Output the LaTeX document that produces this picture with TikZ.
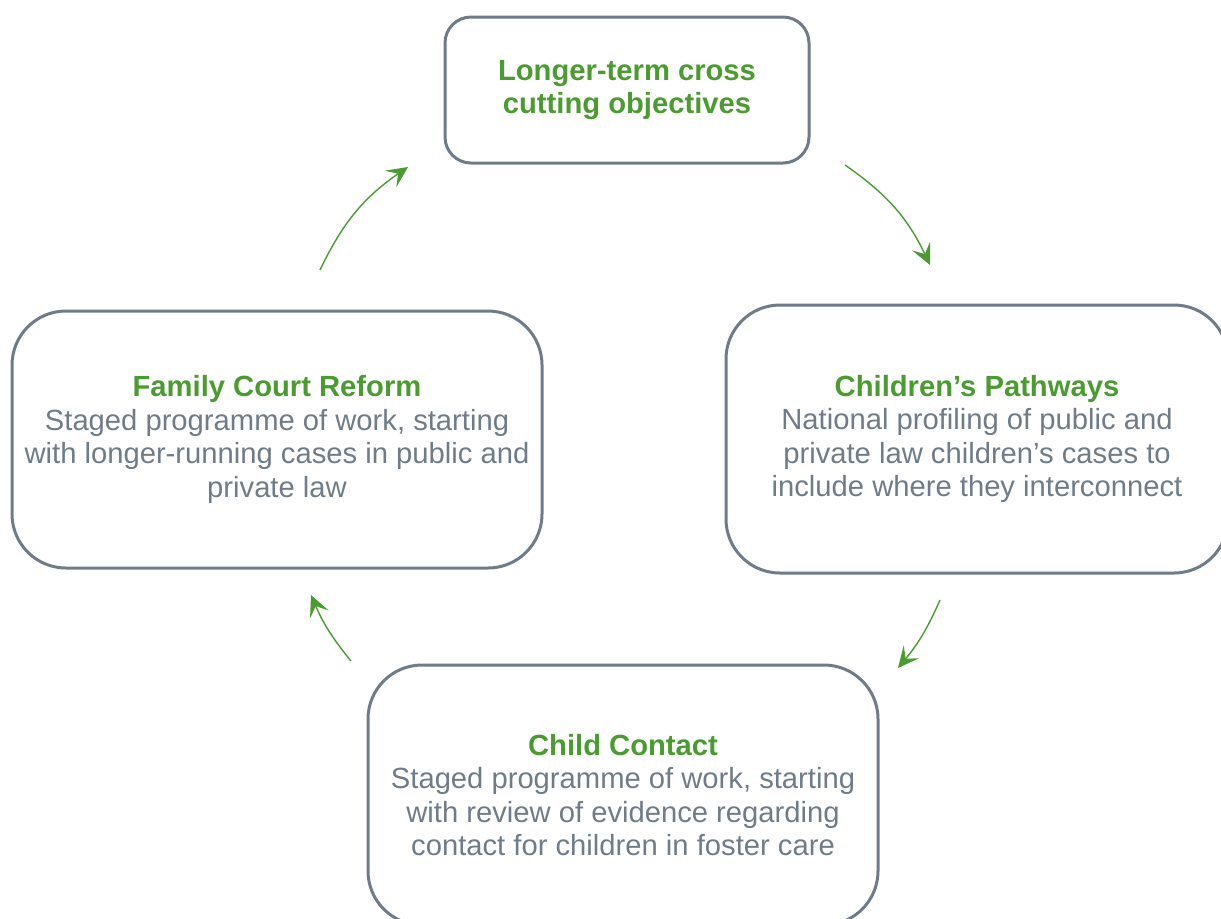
\documentclass[tikz,border=0pt]{standalone}
\usepackage{fontspec}
\setmainfont{Liberation Sans}
\usetikzlibrary{arrows.meta}
\usetikzlibrary{calc,positioning,shapes}

\definecolor{leafgreen}{RGB}{74,155,48}
\definecolor{slategrey}{RGB}{110,123,137}

\begin{document}
\begin{tikzpicture}[x=0.5pt, y=-0.5pt, >={Stealth[length=10.5pt,width=10pt,inset=4.5pt]},
        stage/.style={draw=slategrey, line width=1.5pt, align=center, text=slategrey,
            font=\fontsize{14.6}{16.8}\selectfont, inner sep=0pt},
        flow/.style={->, draw=leafgreen, line width=0.7pt}]
        \useasboundingbox (0,0) rectangle (1221,918);

        \node[stage, rounded corners=13pt, minimum width=182pt, minimum height=73pt] (goals) at (627,90)
            {\textbf{\textcolor{leafgreen}{Longer-term cross}}\\\textbf{\textcolor{leafgreen}{cutting objectives}}};
        \node[stage, rounded corners=27pt, minimum width=265pt, minimum height=128.5pt] (reform) at (277,439.5)
            {\textbf{\textcolor{leafgreen}{Family Court Reform}}\\Staged programme of work, starting\\with longer-running cases in public and\\private law};
        \node[stage, rounded corners=27pt, minimum width=251pt, minimum height=134pt] (pathways) at (977,439)
            {\textbf{\textcolor{leafgreen}{Children’s Pathways}}\\National profiling of public and\\private law children’s cases to\\include where they interconnect};
        \node[stage, rounded corners=27pt, minimum width=255pt, minimum height=130pt] (contact) at (623,795)
            {\textbf{\textcolor{leafgreen}{Child Contact}}\\Staged programme of work, starting\\with review of evidence regarding\\contact for children in foster care};

        \coordinate (r1) at (320,270);
        \coordinate (g1) at (408,167);
        \coordinate (g2) at (845,165);
        \coordinate (p1) at (930,265);
        \coordinate (p2) at (940,600);
        \coordinate (c1) at (898,668);
        \coordinate (c2) at (351,661);
        \coordinate (r2) at (311,595);

        \draw[flow] (r1) to[bend left=15] (g1);
        \draw[flow] (g2) to[bend left=15] (p1);
        \draw[flow] (p2) to[bend left=8] (c1);
        \draw[flow] (c2) to[bend left=8] (r2);
    \end{tikzpicture}
\end{document}
